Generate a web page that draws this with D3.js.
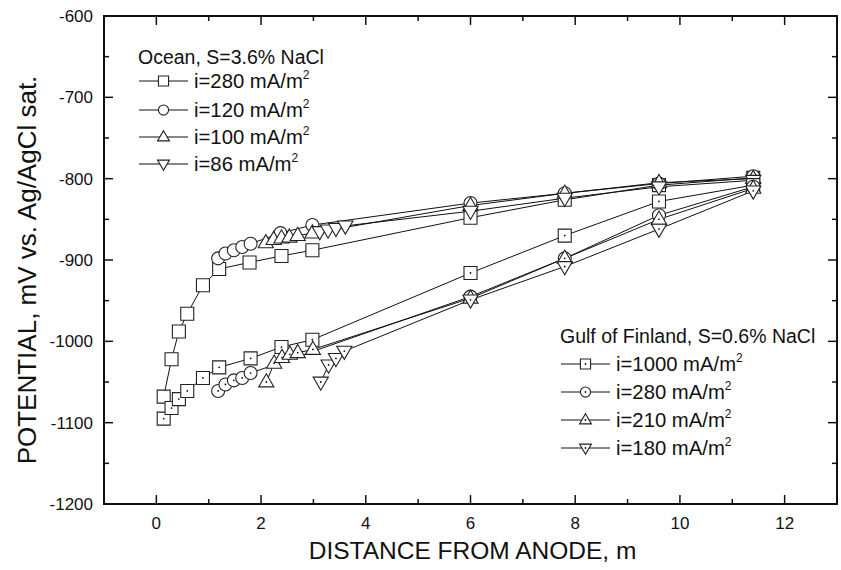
<!DOCTYPE html>
<html><head><meta charset="utf-8">
<script src="https://cdn.jsdelivr.net/npm/d3@7"></script>
<style>body{margin:0;background:#fff}svg{display:block}text{font-family:"Liberation Sans",Arial,sans-serif;fill:#111}</style>
</head><body><svg id="c" width="841" height="570"></svg>
<script>
// ---- data ----
const xTicks = [0,2,4,6,8,10,12];
const yTicks = [-600,-700,-800,-900,-1000,-1100,-1200];

const ocean280X = [0.14,0.29,0.43,0.59,0.89,1.20,1.78,2.39,2.98,6.0,7.8,9.6,11.4];
const ocean280Y = [-1068,-1022,-988,-966,-931,-911,-903,-895,-888,-848,-826,-808,-799];
const ocean120X = [1.18,1.32,1.48,1.64,1.80,2.37,2.98,6.0,7.8,9.6,11.4];
const ocean120Y = [-898,-892,-888,-884,-880,-867,-857,-830,-818,-806,-797];
const ocean100X = [2.09,2.24,2.39,2.54,2.70,2.98,6.0,7.8,9.6,11.4];
const ocean100Y = [-879,-875,-873,-872,-870,-867,-833,-818,-805,-800];
const ocean86X = [3.12,3.28,3.43,3.61,6.0,7.8,9.6,11.4];
const ocean86Y = [-865,-863,-861,-858,-840,-824,-810,-802];

const gulf1000X = [0.14,0.29,0.43,0.59,0.89,1.20,1.80,2.39,2.98,6.0,7.8,9.6,11.4];
const gulf1000Y = [-1095,-1082,-1071,-1061,-1045,-1032,-1021,-1007,-998,-916,-870,-828,-808];
const gulf280X = [1.18,1.32,1.48,1.64,1.80,6.0,7.8,9.6,11.4];
const gulf280Y = [-1061,-1053,-1048,-1045,-1039,-945,-898,-845,-810];
const gulf210X = [2.10,2.25,2.40,2.55,2.70,2.99,6.0,7.8,9.6,11.4];
const gulf210Y = [-1050,-1027,-1020,-1016,-1014,-1010,-947,-898,-850,-812];
const gulf180X = [3.14,3.29,3.43,3.59,6.0,7.8,9.6,11.4];
const gulf180Y = [-1050,-1029,-1021,-1012,-949,-908,-862,-815];

const oceanTitle = "Ocean, S=3.6% NaCl";
const gulfTitle = "Gulf of Finland, S=0.6% NaCl";
const oceanLabels = ["i=280 mA/m","i=120 mA/m","i=100 mA/m","i=86 mA/m"];
const gulfLabels = ["i=1000 mA/m","i=280 mA/m","i=210 mA/m","i=180 mA/m"];
const shapes = ["square","circle","triangle","invtriangle"];

// ---- chart ----
const svg = d3.select("#c");
const L=104,R=837,T=16,B=504;
const x = d3.scaleLinear().domain([-1,13]).range([L,R]);
const y = d3.scaleLinear().domain([-1200,-600]).range([B,T]);

function zip(xs,ys){return xs.map((v,i)=>({x:v,y:ys[i]}));}
const oceanSeries=[zip(ocean280X,ocean280Y),zip(ocean120X,ocean120Y),zip(ocean100X,ocean100Y),zip(ocean86X,ocean86Y)];
const gulfSeries=[zip(gulf1000X,gulf1000Y),zip(gulf280X,gulf280Y),zip(gulf210X,gulf210Y),zip(gulf180X,gulf180Y)];

function markerPath(shape,k){
  if(shape==="square") return d3.symbol(d3.symbolSquare,169*k*k)();
  if(shape==="circle") return d3.symbol(d3.symbolCircle,133*k*k)();
  return d3.symbol(d3.symbolTriangle,100*k*k)();
}
function drawMarker(g,shape,cx,cy,dot,k=1){
  const p=g.append("path").attr("d",markerPath(shape,k))
    .attr("fill","#fff").attr("stroke","#222").attr("stroke-width",1.1);
  let t=`translate(${cx},${cy})`;
  if(shape==="invtriangle") t+=" rotate(180)";
  if(shape==="triangle"||shape==="invtriangle") t+=" translate(0,0.5)";
  p.attr("transform",t);
  if(dot) g.append("circle").attr("cx",cx).attr("cy",cy).attr("r",0.9).attr("fill","#111");
}

const line=d3.line().x(d=>x(d.x)).y(d=>y(d.y));
const plot=svg.append("g");
const all=[...oceanSeries.map((s,i)=>({s,shape:shapes[i],dot:false})),...gulfSeries.map((s,i)=>({s,shape:shapes[i],dot:true}))];
all.forEach(o=>plot.append("path").attr("d",line(o.s)).attr("fill","none").attr("stroke","#111").attr("stroke-width",1));
all.forEach(o=>{const g=plot.append("g");o.s.forEach(d=>drawMarker(g,o.shape,x(d.x),y(d.y),o.dot));});

// axes
const ax=svg.append("g");
const xMinor=d3.range(-1,14,1).filter(v=>v%2!==0);
const yMinor=d3.range(-1150,-600,100);
xTicks.forEach(v=>{
  ax.append("line").attr("x1",x(v)).attr("x2",x(v)).attr("y1",B).attr("y2",B-9).attr("stroke","#111").attr("stroke-width",1.5);
  ax.append("line").attr("x1",x(v)).attr("x2",x(v)).attr("y1",T).attr("y2",T+9).attr("stroke","#111").attr("stroke-width",1.5);
  ax.append("text").attr("x",x(v)).attr("y",B+25).attr("text-anchor","middle").attr("font-size",17).text(v);
});
xMinor.forEach(v=>{
  ax.append("line").attr("x1",x(v)).attr("x2",x(v)).attr("y1",B).attr("y2",B-5).attr("stroke","#111").attr("stroke-width",1.5);
  ax.append("line").attr("x1",x(v)).attr("x2",x(v)).attr("y1",T).attr("y2",T+5).attr("stroke","#111").attr("stroke-width",1.5);
});
yTicks.forEach(v=>{
  ax.append("line").attr("x1",L).attr("x2",L+9).attr("y1",y(v)).attr("y2",y(v)).attr("stroke","#111").attr("stroke-width",1.5);
  ax.append("line").attr("x1",R).attr("x2",R-9).attr("y1",y(v)).attr("y2",y(v)).attr("stroke","#111").attr("stroke-width",1.5);
  ax.append("text").attr("x",L-11).attr("y",y(v)).attr("dy","0.35em").attr("text-anchor","end").attr("font-size",17).text(v);
});
yMinor.forEach(v=>{
  ax.append("line").attr("x1",L).attr("x2",L+5).attr("y1",y(v)).attr("y2",y(v)).attr("stroke","#111").attr("stroke-width",1.5);
  ax.append("line").attr("x1",R).attr("x2",R-5).attr("y1",y(v)).attr("y2",y(v)).attr("stroke","#111").attr("stroke-width",1.5);
});
ax.append("rect").attr("x",L).attr("y",T).attr("width",R-L).attr("height",B-T).attr("fill","none").attr("stroke","#111").attr("stroke-width",2);

svg.append("text").attr("x",(L+R)/2+2).attr("y",559).attr("text-anchor","middle").attr("font-size",24.5).text("DISTANCE FROM ANODE, m");
svg.append("text").attr("transform",`translate(27,270) rotate(-90)`).attr("dy","0.35em").attr("text-anchor","middle").attr("font-size",26).text("POTENTIAL, mV vs. Ag/AgCl sat.");

// legends
function legend(x0,titleY,rowYs,title,labels,dot){
  const g=svg.append("g");
  g.append("text").attr("x",x0).attr("y",titleY).attr("dy","0.35em").attr("font-size",19.5).text(title);
  labels.forEach((lab,i)=>{
    const yy=rowYs[i];
    g.append("line").attr("x1",x0+1).attr("x2",x0+50).attr("y1",yy).attr("y2",yy).attr("stroke","#111").attr("stroke-width",1);
    drawMarker(g,shapes[i],x0+25.5,yy,dot,0.78);
    const t=g.append("text").attr("x",x0+56).attr("y",yy).attr("dy","0.35em").attr("font-size",20.3).text(lab);
    t.append("tspan").attr("font-size",12).attr("dy","-0.8em").text("2");
  });
}
legend(138,57,[81,110,137,164],oceanTitle,oceanLabels,false);
legend(560,336,[364,392,420,448],gulfTitle,gulfLabels,true);
</script></body></html>
